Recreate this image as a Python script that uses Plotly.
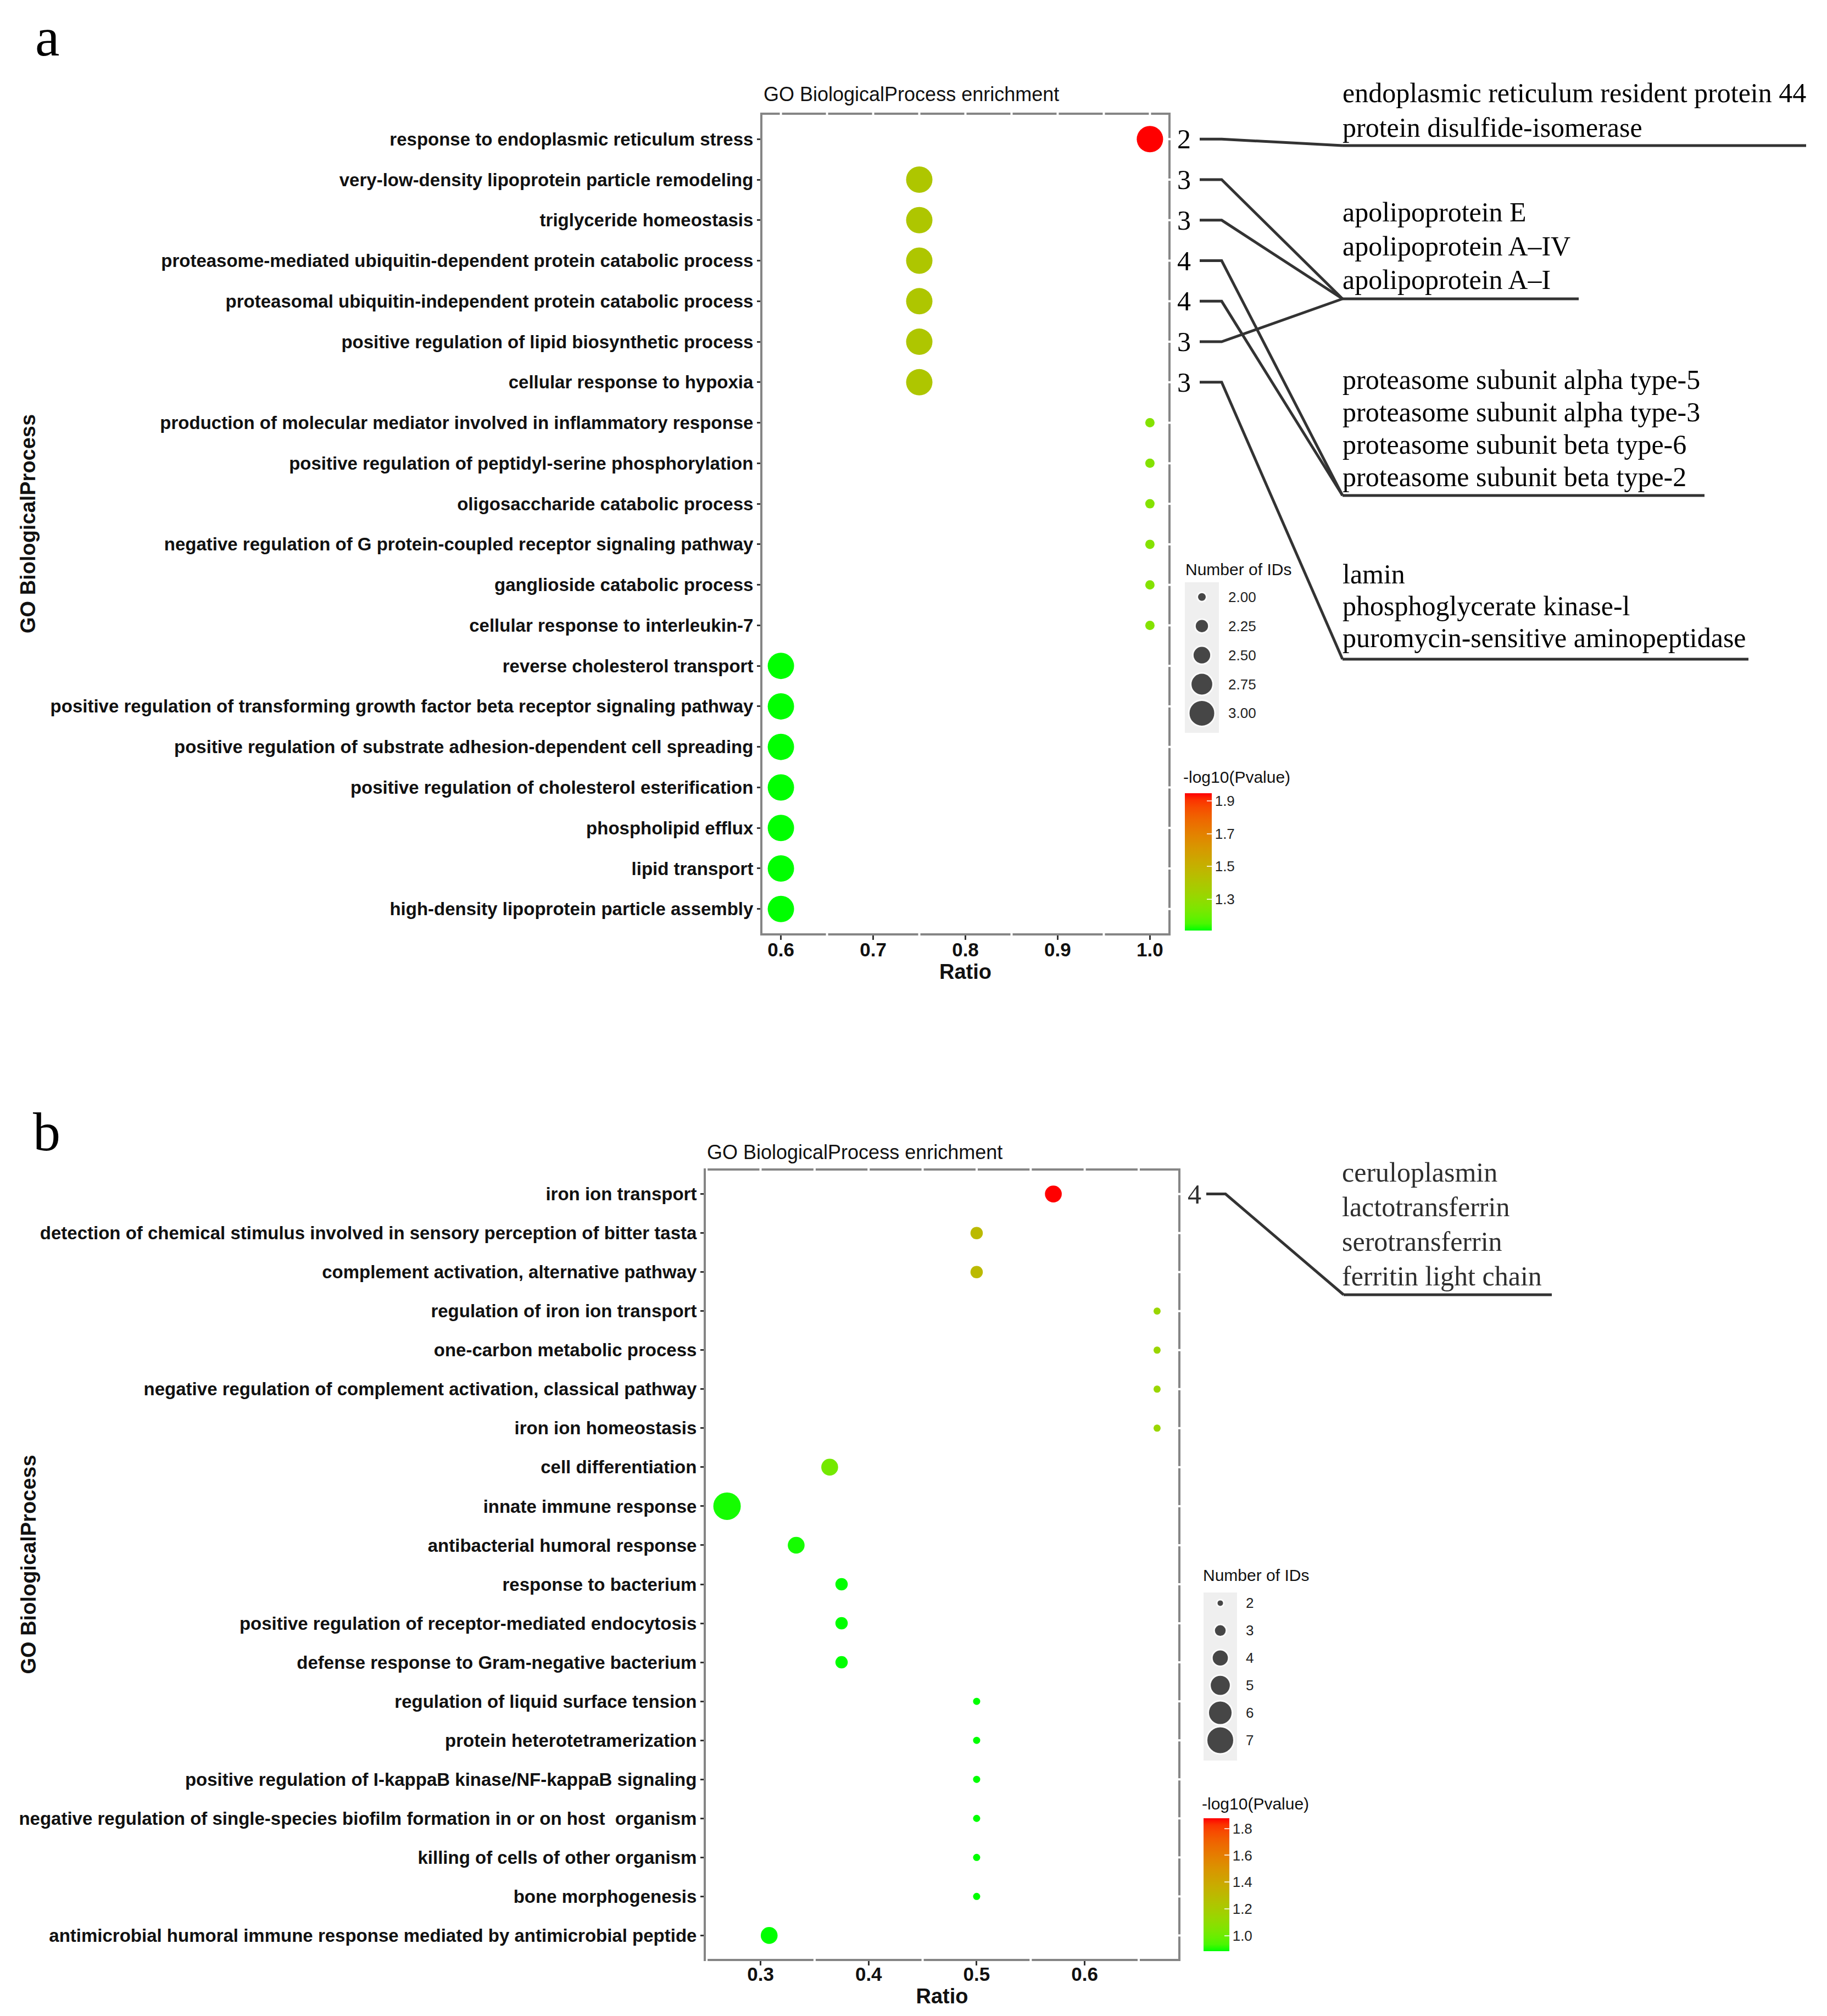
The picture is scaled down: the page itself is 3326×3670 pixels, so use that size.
import numpy as np
import plotly.graph_objects as go

# browser window is 3326x3670; the page body adds an 8px margin, so the figure is drawn 8px in
OFF = 8
WF, HF = 3326 - 2 * OFF, 3670 - 2 * OFF

# ---------------- data: panel a ----------------
terms_a = [
    "response to endoplasmic reticulum stress",
    "very-low-density lipoprotein particle remodeling",
    "triglyceride homeostasis",
    "proteasome-mediated ubiquitin-dependent protein catabolic process",
    "proteasomal ubiquitin-independent protein catabolic process",
    "positive regulation of lipid biosynthetic process",
    "cellular response to hypoxia",
    "production of molecular mediator involved in inflammatory response",
    "positive regulation of peptidyl-serine phosphorylation",
    "oligosaccharide catabolic process",
    "negative regulation of G protein-coupled receptor signaling pathway",
    "ganglioside catabolic process",
    "cellular response to interleukin-7",
    "reverse cholesterol transport",
    "positive regulation of transforming growth factor beta receptor signaling pathway",
    "positive regulation of substrate adhesion-dependent cell spreading",
    "positive regulation of cholesterol esterification",
    "phospholipid efflux",
    "lipid transport",
    "high-density lipoprotein particle assembly",
]
ratio_a = [1.0, 0.75, 0.75, 0.75, 0.75, 0.75, 0.75,
           1.0, 1.0, 1.0, 1.0, 1.0, 1.0,
           0.6, 0.6, 0.6, 0.6, 0.6, 0.6, 0.6]
ids_a = [3, 3, 3, 3, 3, 3, 3,
         2, 2, 2, 2, 2, 2,
         3, 3, 3, 3, 3, 3, 3]
logp_a = [1.948, 1.40, 1.40, 1.40, 1.40, 1.40, 1.40,
          1.26, 1.26, 1.26, 1.26, 1.26, 1.26,
          1.108, 1.108, 1.108, 1.108, 1.108, 1.108, 1.108]
xticks_a = [0.6, 0.7, 0.8, 0.9, 1.0]
xticklabels_a = ["0.6", "0.7", "0.8", "0.9", "1.0"]
cbticks_a = [1.3, 1.5, 1.7, 1.9]
size_keys_a = [2.00, 2.25, 2.50, 2.75, 3.00]
size_key_labels_a = ["2.00", "2.25", "2.50", "2.75", "3.00"]
gene_counts_a = [2, 3, 3, 4, 4, 3, 3]
gene_groups_a = [
    ["endoplasmic reticulum resident protein 44", "protein disulfide-isomerase"],
    ["apolipoprotein E", "apolipoprotein A\u2013IV", "apolipoprotein A\u2013I"],
    ["proteasome subunit alpha type-5", "proteasome subunit alpha type-3",
     "proteasome subunit beta type-6", "proteasome subunit beta type-2"],
    ["lamin", "phosphoglycerate kinase-l", "puromycin-sensitive aminopeptidase"],
]
row_group_a = [0, 1, 1, 2, 2, 1, 3]

# ---------------- data: panel b ----------------
terms_b = [
    "iron ion transport",
    "detection of chemical stimulus involved in sensory perception of bitter tasta",
    "complement activation, alternative pathway",
    "regulation of iron ion transport",
    "one-carbon metabolic process",
    "negative regulation of complement activation, classical pathway",
    "iron ion homeostasis",
    "cell differentiation",
    "innate immune response",
    "antibacterial humoral response",
    "response to bacterium",
    "positive regulation of receptor-mediated endocytosis",
    "defense response to Gram-negative bacterium",
    "regulation of liquid surface tension",
    "protein heterotetramerization",
    "positive regulation of I-kappaB kinase/NF-kappaB signaling",
    "negative regulation of single-species biofilm formation in or on host  organism",
    "killing of cells of other organism",
    "bone morphogenesis",
    "antimicrobial humoral immune response mediated by antimicrobial peptide",
]
ratio_b = [0.571, 0.5, 0.5, 0.667, 0.667, 0.667, 0.667,
           0.364, 0.269, 0.333, 0.375, 0.375, 0.375,
           0.5, 0.5, 0.5, 0.5, 0.5, 0.5, 0.308]
ids_b = [4, 3, 3, 2, 2, 2, 2, 4, 7, 4, 3, 3, 3, 2, 2, 2, 2, 2, 2, 4]
logp_b = [1.876, 1.30, 1.30, 1.14, 1.14, 1.14, 1.14,
          1.02, 0.90, 0.90, 0.886, 0.886, 0.886,
          0.886, 0.886, 0.886, 0.886, 0.886, 0.886, 0.886]
xticks_b = [0.3, 0.4, 0.5, 0.6]
xticklabels_b = ["0.3", "0.4", "0.5", "0.6"]
cbticks_b = [1.0, 1.2, 1.4, 1.6, 1.8]
size_keys_b = [2, 3, 4, 5, 6, 7]
size_key_labels_b = ["2", "3", "4", "5", "6", "7"]
gene_counts_b = [4]
gene_groups_b = [["ceruloplasmin", "lactotransferrin", "serotransferrin", "ferritin light chain"]]

# ---------------- helpers ----------------
def px(x):
    return (x - OFF) / WF

def py(y):
    return 1 - (y - OFF) / HF

def srgb2lin(c):
    return np.where(c <= 0.04045, c / 12.92, ((c + 0.055) / 1.055) ** 2.4)

def lin2srgb(c):
    c = np.clip(c, 0, 1)
    return np.where(c <= 0.0031308, 12.92 * c, 1.055 * c ** (1 / 2.4) - 0.055)

M = np.array([[0.4124564, 0.3575761, 0.1804375],
              [0.2126729, 0.7151522, 0.0721750],
              [0.0193339, 0.1191920, 0.9503041]])
MI = np.linalg.inv(M)
WHITE = np.array([0.95047, 1.0, 1.08883])
D = 6 / 29

def f(t):
    return np.where(t > D ** 3, np.cbrt(t), t / (3 * D * D) + 4 / 29)

def finv(t):
    return np.where(t > D, t ** 3, 3 * D * D * (t - 4 / 29))

def rgb2lab(rgb):
    xyz = M @ srgb2lin(np.array(rgb) / 255.0) / WHITE
    fx, fy, fz = f(xyz)
    return np.array([116 * fy - 16, 500 * (fx - fy), 200 * (fy - fz)])

def lab2rgb(lab):
    L, a, b = lab
    fy = (L + 16) / 116
    fx = fy + a / 500
    fz = fy - b / 200
    xyz = finv(np.array([fx, fy, fz])) * WHITE
    rgb = lin2srgb(MI @ xyz) * 255
    return tuple(int(round(v)) for v in np.clip(rgb, 0, 255))

def lab_scale(low, high, n=21):
    l0, l1 = rgb2lab(low), rgb2lab(high)
    out = []
    for t in np.linspace(0, 1, n):
        r, g, b = lab2rgb(l0 + (l1 - l0) * t)
        out.append([float(t), f"rgb({r},{g},{b})"])
    return out

SCALE = lab_scale((0, 255, 0), (255, 0, 0))

def diam(vals, vmin, vmax, dmin, dmax):
    v = np.sqrt(np.asarray(vals, dtype=float))
    return list(dmin + (dmax - dmin) * (v - np.sqrt(vmin)) / (np.sqrt(vmax) - np.sqrt(vmin)))

SANS = "Liberation Sans, Arial, sans-serif"
SERIF = "Liberation Serif, Times New Roman, serif"

# ---------------- geometry (window pixels) ----------------
A_X0, A_X1, A_Y0, A_Y1 = 1388, 2127, 209, 1699
B_X0, B_X1, B_Y0, B_Y1 = 1285, 2145, 2131, 3566
N = 20
XR_A = [0.58, 1.02]
XR_B = [0.2494, 0.6866]

def row_px(i, y0, y1):
    j = N - 1 - i
    return y1 - (j + 0.6) / (N + 0.2) * (y1 - y0)

fig = go.Figure()

fig.add_trace(go.Scatter(
    x=ratio_a, y=terms_a, mode="markers", xaxis="x", yaxis="y", showlegend=False,
    marker=dict(size=diam(ids_a, 2, 3, 17, 48), sizemode="diameter",
                color=logp_a, coloraxis="coloraxis", line=dict(width=0), opacity=1),
))
fig.add_trace(go.Scatter(
    x=ratio_b, y=terms_b, mode="markers", xaxis="x2", yaxis="y2", showlegend=False,
    marker=dict(size=diam(ids_b, 2, 7, 13, 50), sizemode="diameter",
                color=logp_b, coloraxis="coloraxis2", line=dict(width=0), opacity=1),
))
fig.add_trace(go.Scatter(
    x=[0] * len(size_keys_a), y=list(range(len(size_keys_a))), mode="markers",
    xaxis="x3", yaxis="y3", showlegend=False, hoverinfo="skip",
    marker=dict(size=diam(size_keys_a, 2, 3, 17, 48), color="black",
                line=dict(color="white", width=3)),
))
fig.add_trace(go.Scatter(
    x=[0] * len(size_keys_b), y=list(range(len(size_keys_b))), mode="markers",
    xaxis="x4", yaxis="y4", showlegend=False, hoverinfo="skip",
    marker=dict(size=diam(size_keys_b, 2, 7, 13, 50), color="black",
                line=dict(color="white", width=3)),
))

axis_common = dict(showline=True, linecolor="#858585", linewidth=4, mirror=True,
                   ticks="outside", tickcolor="#333333", tickwidth=3,
                   showgrid=False, zeroline=False, automargin=False)

xtick_font = dict(family=SANS, size=35, color="#111111", weight="bold")
ytick_font = dict(family=SANS, size=33, color="#111111", weight="bold")
xtitle_font = dict(family=SANS, size=38, color="#111111", weight="bold")

fig.update_layout(
    width=WF, height=HF, margin=dict(l=0, r=0, t=0, b=0),
    paper_bgcolor="white", plot_bgcolor="rgba(0,0,0,0)",
    xaxis=dict(domain=[px(A_X0), px(A_X1)], range=XR_A, anchor="y",
               tickvals=xticks_a, ticktext=xticklabels_a, ticklen=8, tickfont=xtick_font,
               ticklabelstandoff=-12,
               title=dict(text="Ratio", font=xtitle_font, standoff=2), **axis_common),
    yaxis=dict(domain=[py(A_Y1), py(A_Y0)], type="category", anchor="x",
               categoryorder="array", categoryarray=terms_a[::-1], range=[-0.6, N - 0.4],
               ticklen=6, tickfont=ytick_font, **axis_common),
    xaxis2=dict(domain=[px(B_X0), px(B_X1)], range=XR_B, anchor="y2",
                tickvals=xticks_b, ticktext=xticklabels_b, ticklen=8, tickfont=xtick_font,
                ticklabelstandoff=-14,
                title=dict(text="Ratio", font=xtitle_font, standoff=2), **axis_common),
    yaxis2=dict(domain=[py(B_Y1), py(B_Y0)], type="category", anchor="x2",
                categoryorder="array", categoryarray=terms_b[::-1], range=[-0.6, N - 0.4],
                ticklen=6, tickfont=ytick_font, **axis_common),
    xaxis3=dict(domain=[px(2157), px(2219)], range=[-1, 1], visible=False, anchor="y3"),
    yaxis3=dict(domain=[py(1334), py(1060)], range=[4.673, -0.507],
                visible=False, anchor="x3"),
    xaxis4=dict(domain=[px(2191), px(2252)], range=[-1, 1], visible=False, anchor="y4"),
    yaxis4=dict(domain=[py(3205), py(2899)], range=[5.743, -0.389],
                visible=False, anchor="x4"),
    coloraxis=dict(
        colorscale=SCALE, cmin=min(logp_a), cmax=max(logp_a),
        colorbar=dict(x=px(2157), xanchor="left", xpad=0, y=py(1569), yanchor="middle", ypad=0,
                      len=250, lenmode="pixels", thickness=49, thicknessmode="pixels",
                      outlinewidth=0, tickvals=cbticks_a, ticktext=[f"{v:.1f}" for v in cbticks_a],
                      ticks="inside", ticklen=9, tickwidth=2, tickcolor="rgba(255,255,255,0.8)",
                      tickfont=dict(family=SANS, size=26, color="#222222"),
                      title=dict(text="")),
    ),
    coloraxis2=dict(
        colorscale=SCALE, cmin=min(logp_b), cmax=max(logp_b),
        colorbar=dict(x=px(2191), xanchor="left", xpad=0, y=py(3431), yanchor="middle", ypad=0,
                      len=242, lenmode="pixels", thickness=47, thicknessmode="pixels",
                      outlinewidth=0, tickvals=cbticks_b, ticktext=[f"{v:.1f}" for v in cbticks_b],
                      ticks="inside", ticklen=9, tickwidth=2, tickcolor="rgba(255,255,255,0.8)",
                      tickfont=dict(family=SANS, size=26, color="#222222"),
                      title=dict(text="")),
    ),
)

shapes = [
    dict(type="rect", xref="x3 domain", yref="y3 domain", x0=0, x1=1, y0=0, y1=1,
         fillcolor="#efefef", line=dict(width=0), layer="below"),
    dict(type="rect", xref="x4 domain", yref="y4 domain", x0=0, x1=1, y0=0, y1=1,
         fillcolor="#efefef", line=dict(width=0), layer="below"),
]

# small white breaks in the panel border (where the ggplot grid meets it)
def border_breaks(xa, ya, xticks, xr):
    step = (xticks[1] - xticks[0]) / 2
    k0 = int(np.ceil((xr[0] - xticks[0]) / step))
    k1 = int(np.floor((xr[1] - xticks[0]) / step))
    for k in range(k0, k1 + 1):
        v = xticks[0] + k * step
        shapes.append(dict(type="line", xref=xa, yref=ya + " domain", x0=v, x1=v,
                           y0=0.993, y1=1.007, line=dict(color="white", width=4), layer="above"))
        if k % 2:
            shapes.append(dict(type="line", xref=xa, yref=ya + " domain", x0=v, x1=v,
                               y0=-0.007, y1=0.007, line=dict(color="white", width=4), layer="above"))
    for i in range(N):
        shapes.append(dict(type="line", xref=xa + " domain", yref=ya, x0=0.992, x1=1.008,
                           y0=i, y1=i, line=dict(color="white", width=4), layer="above"))

border_breaks("x", "y", xticks_a, XR_A)
border_breaks("x2", "y2", xticks_b, XR_B)

ann = []

def text(x, y, s, size, family=SANS, color="#111111", xanchor="left", weight="normal", angle=0):
    ann.append(dict(x=px(x), y=py(y), xref="paper", yref="paper", text=s, showarrow=False,
                    xanchor=xanchor, yanchor="middle", textangle=angle,
                    font=dict(family=family, size=size, color=color, weight=weight)))

# panel letters / titles / axis titles
text(62, 68, "a", 100, family=SERIF, color="#000000")
text(58, 2060, "b", 100, family=SERIF, color="#000000")
text(A_X0, 172, "GO BiologicalProcess enrichment", 36)
text(B_X0, 2097, "GO BiologicalProcess enrichment", 36)
text(51, (A_Y0 + A_Y1) / 2, "GO BiologicalProcess", 38, xanchor="center", weight="bold", angle=-90)
text(51, (B_Y0 + B_Y1) / 2, "GO BiologicalProcess", 38, xanchor="center", weight="bold", angle=-90)

# legends
text(2156, 1037, "Number of IDs", 30)
text(2188, 2867, "Number of IDs", 30)
text(2152, 1415, "-log10(Pvalue)", 30)
text(2186, 3283, "-log10(Pvalue)", 30)
for k, lab in enumerate(size_key_labels_a):
    ann.append(dict(x=px(2234), y=k, xref="paper", yref="y3", text=lab, showarrow=False,
                    xanchor="left", yanchor="middle", font=dict(family=SANS, size=26, color="#222222")))
for k, lab in enumerate(size_key_labels_b):
    ann.append(dict(x=px(2266), y=k, xref="paper", yref="y4", text=lab, showarrow=False,
                    xanchor="left", yanchor="middle", font=dict(family=SANS, size=26, color="#222222")))

# gene annotations panel a
LINE = dict(color="#333333", width=5)
under_a = [265, 544, 902, 1200]
under_end_a = [3288, 2874, 3103, 3183]
first_line_a = [169, 386, 691, 1045]
spacing_a = [63, 61.5, 59, 58]
for g, lines in enumerate(gene_groups_a):
    for k, s in enumerate(lines):
        text(2442, first_line_a[g] + k * spacing_a[g], s, 50, family=SERIF, color="#000000")
    shapes.append(dict(type="line", xref="paper", yref="paper",
                       x0=px(2444), x1=px(under_end_a[g]), y0=py(under_a[g]), y1=py(under_a[g]),
                       line=LINE))
for i, cnt in enumerate(gene_counts_a):
    yr = row_px(i, A_Y0, A_Y1)
    text(2155, yr, str(cnt), 50, family=SERIF, color="#000000", xanchor="center")
    g = row_group_a[i]
    shapes.append(dict(type="path", xref="paper", yref="paper",
                       path=f"M {px(2184)},{py(yr)} L {px(2224)},{py(yr)} L {px(2444)},{py(under_a[g])}",
                       line=LINE))

# gene annotations panel b
under_b = [2357]
under_end_b = [2825]
first_line_b = [2134]
spacing_b = [63]
for g, lines in enumerate(gene_groups_b):
    for k, s in enumerate(lines):
        text(2441, first_line_b[g] + k * spacing_b[g], s, 50, family=SERIF, color="#2e2e2e")
    shapes.append(dict(type="line", xref="paper", yref="paper",
                       x0=px(2446), x1=px(under_end_b[g]), y0=py(under_b[g]), y1=py(under_b[g]),
                       line=LINE))
for i, cnt in enumerate(gene_counts_b):
    yr = row_px(i, B_Y0, B_Y1)
    text(2174, yr, str(cnt), 50, family=SERIF, color="#2e2e2e", xanchor="center")
    shapes.append(dict(type="path", xref="paper", yref="paper",
                       path=f"M {px(2196)},{py(yr)} L {px(2231)},{py(yr)} L {px(2446)},{py(under_b[0])}",
                       line=LINE))

fig.update_layout(shapes=shapes, annotations=ann)
fig.write_html("out.html")
